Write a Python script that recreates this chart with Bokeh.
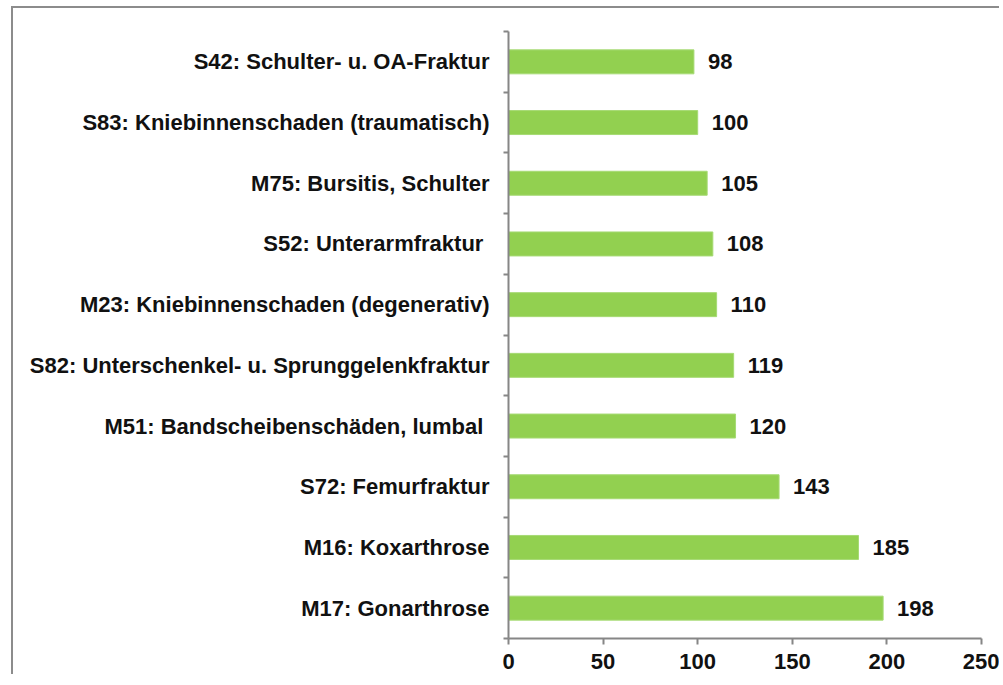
from bokeh.plotting import figure
from bokeh.models import FixedTicker, ColumnDataSource
from bokeh.embed import file_html
from bokeh.resources import INLINE
from bokeh.core.properties import value

# Data, top to bottom as in the chart
categories = [
    "S42: Schulter- u. OA-Fraktur",
    "S83: Kniebinnenschaden (traumatisch)",
    "M75: Bursitis, Schulter",
    "S52: Unterarmfraktur ",
    "M23: Kniebinnenschaden (degenerativ)",
    "S82: Unterschenkel- u. Sprunggelenkfraktur",
    "M51: Bandscheibenschäden, lumbal ",
    "S72: Femurfraktur",
    "M16: Koxarthrose",
    "M17: Gonarthrose",
]
counts = [98, 100, 105, 108, 110, 119, 120, 143, 185, 198]
x_ticks = [0, 50, 100, 150, 200, 250]

n = len(categories)
ypos = [n - i - 0.5 for i in range(n)]  # category centres, first at top
labels_txt = [str(v) for v in counts]

src = ColumnDataSource(dict(y=ypos, v=counts, cat=categories, lab=labels_txt))

FONT = "Liberation Sans"
GRAY = "#868686"

p = figure(
    width=988, height=668,
    x_range=(0, 250), y_range=(0, n),
    output_backend="svg", toolbar_location=None,
    min_border_left=495, min_border_right=20,
    min_border_top=23, min_border_bottom=38,
)
p.styles = {
    "border-left": "2px solid #8c8c8c",
    "border-top": "2px solid #8c8c8c",
    "margin-left": "11px",
    "margin-top": "6px",
}
p.outline_line_color = None
p.xgrid.visible = False
p.ygrid.visible = False
p.background_fill_color = "white"
p.border_fill_color = "white"

p.hbar(y="y", right="v", left=0, height=0.395, source=src,
       fill_color="#92D050", line_color="#A6DA74", line_width=1)

p.text(x="v", y="y", text="lab", source=src, x_offset=14,
       text_baseline="middle", text_align="left",
       text_font=value(FONT), text_font_style="bold",
       text_font_size="22px", text_color="#111111")

# X axis
xa = p.xaxis[0]
xa.ticker = FixedTicker(ticks=x_ticks, minor_ticks=[])
xa.axis_line_color = GRAY
xa.axis_line_width = 2
xa.major_tick_line_color = GRAY
xa.major_tick_line_width = 2
xa.major_tick_in = 0
xa.major_tick_out = 6
xa.minor_tick_line_color = None
xa.major_label_text_font = FONT
xa.major_label_text_font_style = "bold"
xa.major_label_text_font_size = "22px"
xa.major_label_text_color = "#111111"
xa.major_label_standoff = 9

# Y axis
ya = p.yaxis[0]
ya.ticker = FixedTicker(ticks=ypos, minor_ticks=list(range(0, n + 1)))
ya.major_label_overrides = {y: c for y, c in zip(ypos, categories)}
ya.axis_line_color = GRAY
ya.axis_line_width = 2
ya.major_tick_line_color = None
ya.major_tick_in = 0
ya.major_tick_out = 0
ya.minor_tick_line_color = GRAY
ya.minor_tick_line_width = 2
ya.minor_tick_in = 0
ya.minor_tick_out = 5
ya.major_label_text_font = FONT
ya.major_label_text_font_style = "bold"
ya.major_label_text_font_size = "22px"
ya.major_label_text_color = "#111111"
ya.major_label_standoff = 14

open("out.html", "w").write(file_html(p, INLINE))
